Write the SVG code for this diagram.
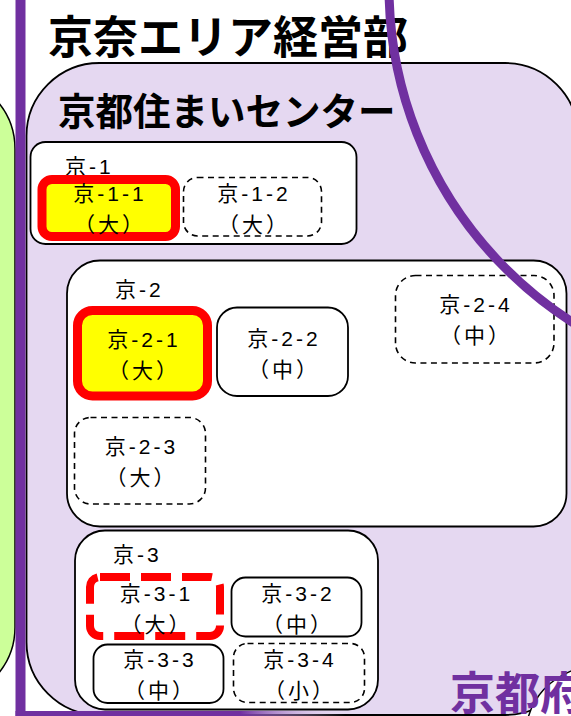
<svg xmlns="http://www.w3.org/2000/svg" width="571" height="716" viewBox="0 0 571 716">
<defs>
<style>
.box{fill:#ffffff;stroke:#000000;stroke-width:1.8}
.dash{fill:#ffffff;stroke:#000000;stroke-width:1.6;stroke-dasharray:6 4.5}
.hot{fill:#ffff00;stroke:#ff0000;stroke-width:9}
.reddash{fill:#ffffff;stroke:#ff0000;stroke-width:8;stroke-dasharray:30 11}
.t{font-family:"Liberation Sans","Noto Sans CJK JP",sans-serif;font-size:21px;letter-spacing:3px;fill:#000000;text-anchor:middle}
.lbl{font-family:"Liberation Sans","Noto Sans CJK JP",sans-serif;font-size:21px;letter-spacing:3px;fill:#000000}
.big{font-family:"Noto Sans CJK JP",sans-serif;font-weight:bold;fill:#000000}
</style>
<linearGradient id="fade" x1="0" y1="0" x2="1" y2="0">
<stop offset="0" stop-color="#7030a0"/>
<stop offset="0.68" stop-color="#7030a0"/>
<stop offset="1" stop-color="#e5d8f1" stop-opacity="0"/>
</linearGradient>
</defs>
<rect x="0" y="0" width="571" height="716" fill="#ffffff"/>
<g id="area-left">
<rect x="-500" y="76" width="515" height="624" rx="73" fill="#ccff99" stroke="#000000" stroke-width="1.5"/>
</g>
<g id="kyoto-center">
<rect x="26.5" y="63" width="551.5" height="652" rx="73" fill="#e5d8f1" stroke="#000000" stroke-width="1.8"/>
<text class="big" x="58" y="125" font-size="37.5">京都住まいセンター</text>
</g>
<g id="title">
<text class="big" x="48" y="54" font-size="45">京奈エリア経営部</text>
</g>
<g id="kyo-1">
<rect class="box" x="30.5" y="142" width="326" height="102" rx="15"/>
<text class="lbl" x="65" y="174">京-1</text>
</g>
<g id="kyo-1-1">
<rect class="hot" x="42" y="179.5" width="133.5" height="57" rx="10"/>
<text class="t" x="110" y="201">京-1-1</text>
<text class="t" x="110" y="232">（大）</text>
</g>
<g id="kyo-1-2">
<rect class="dash" x="183.5" y="177.5" width="138" height="58.5" rx="14"/>
<text class="t" x="254" y="201">京-1-2</text>
<text class="t" x="254" y="232">（大）</text>
</g>
<g id="kyo-2">
<rect class="box" x="67" y="260.5" width="499.5" height="266" rx="33"/>
<text class="lbl" x="115" y="297">京-2</text>
</g>
<g id="kyo-2-1">
<rect class="hot" x="77.5" y="310.5" width="130" height="85.5" rx="15"/>
<text class="t" x="144" y="347">京-2-1</text>
<text class="t" x="144" y="378">（大）</text>
</g>
<g id="kyo-2-2">
<rect class="box" x="217" y="307.5" width="131" height="88.5" rx="20"/>
<text class="t" x="284" y="346">京-2-2</text>
<text class="t" x="284" y="377">（中）</text>
</g>
<g id="kyo-2-3">
<rect class="dash" x="74.5" y="417.5" width="131" height="86.5" rx="16"/>
<text class="t" x="141.5" y="454">京-2-3</text>
<text class="t" x="141.5" y="485">（大）</text>
</g>
<g id="kyo-2-4">
<rect class="dash" x="395.5" y="275.5" width="158.5" height="87.5" rx="20"/>
<text class="t" x="476" y="312">京-2-4</text>
<text class="t" x="476" y="343">（中）</text>
</g>
<g id="kyo-3">
<rect class="box" x="75" y="530.5" width="303" height="179" rx="30"/>
<text class="lbl" x="113" y="562">京-3</text>
</g>
<g id="kyo-3-1">
<rect class="reddash" x="90" y="577" width="130" height="59" rx="10"/>
<text class="t" x="156.5" y="601">京-3-1</text>
<text class="t" x="156.5" y="632">（大）</text>
</g>
<g id="kyo-3-2">
<rect class="box" x="231.5" y="577.5" width="130" height="59" rx="14"/>
<text class="t" x="298" y="601">京-3-2</text>
<text class="t" x="298" y="632">（中）</text>
</g>
<g id="kyo-3-3">
<rect class="box" x="93.5" y="644.5" width="130" height="58.5" rx="14"/>
<text class="t" x="160" y="667">京-3-3</text>
<text class="t" x="160" y="698">（中）</text>
</g>
<g id="kyo-3-4">
<rect class="dash" x="233.5" y="643.5" width="131" height="59" rx="14"/>
<text class="t" x="300" y="667">京-3-4</text>
<text class="t" x="300" y="698">（小）</text>
</g>
<g id="kyoto-fu">
<path d="M528,718 Q538,683 576,669 L576,718 Z" fill="#ffffff" stroke="#000000" stroke-width="1.5"/>
<text x="450" y="710" font-family="Noto Sans CJK JP,sans-serif" font-weight="bold" font-size="45" fill="#7030a0">京都府</text>
</g>
<g id="connectors">
<rect x="15.5" y="0" width="10" height="716" fill="#7030a0"/>
<rect x="15.5" y="711" width="330" height="6" fill="url(#fade)"/>
<circle cx="787" cy="-13" r="398" fill="none" stroke="#7030a0" stroke-width="9"/>
</g>
</svg>
